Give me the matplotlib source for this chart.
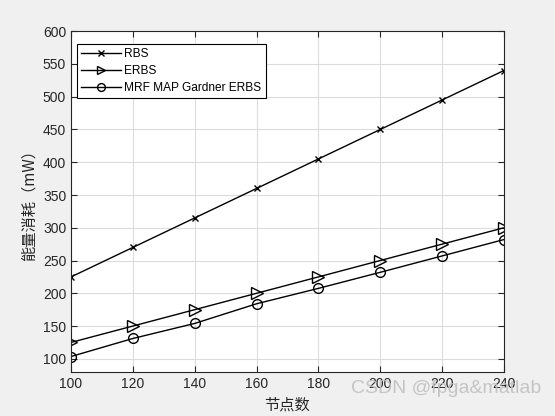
import matplotlib.pyplot as plt

nodes = [100, 120, 140, 160, 180, 200, 220, 240]
rbs = [225, 270, 315, 360, 405, 450, 495, 540]
erbs = [125, 150, 175, 200, 225, 250, 275, 300]
mrf = [103.5, 131, 154, 184, 207.5, 232, 257, 282]

plt.rcParams['font.family'] = ['Liberation Sans', 'Noto Sans CJK SC', 'DejaVu Sans']

fig = plt.figure(figsize=(5.55, 4.16), dpi=100, facecolor='#f0f0f0')
ax = fig.add_axes([0.128, 0.106, 0.78, 0.819])

ax.plot(nodes, rbs, 'k-x', lw=1, ms=5, mew=1, label='RBS')
ax.plot(nodes, erbs, 'k->', lw=1, ms=8, mfc='none', mew=1, label='ERBS')
ax.plot(nodes, mrf, 'k-o', lw=1, ms=7, mfc='none', mew=1, label='MRF MAP Gardner ERBS')

ax.set_xlim(100, 240)
ax.set_ylim(80, 600)
ax.set_xticks(range(100, 241, 20))
ax.set_yticks(range(100, 601, 50))
ax.grid(True, color='#dcdcdc', lw=0.8)
ax.tick_params(direction='in', top=True, right=True, labelsize=10, colors='#262626', length=4)
for s in ax.spines.values():
    s.set_color('#262626')
    s.set_linewidth(0.8)

ax.set_xlabel('节点数', fontsize=11, family=['Noto Sans CJK SC'], color='#262626')
ax.set_ylabel('能量消耗（mW）', fontsize=11, family=['Noto Sans CJK SC'], color='#262626')

leg = ax.legend(loc='upper left', bbox_to_anchor=(0.014, 0.962), fontsize=8.6,
                fancybox=False, framealpha=1, edgecolor='k', borderpad=0.35,
                labelspacing=0.4, handlelength=3.3, handletextpad=0.3,
                borderaxespad=0, markerscale=0.8)
leg.get_frame().set_linewidth(0.8)

fig.text(0.975, 0.045, 'CSDN @fpga&matlab', ha='right', va='bottom', fontsize=14,
         color='#c0c0c0', alpha=0.9)

fig.savefig('out.png', dpi=100, facecolor=fig.get_facecolor())
